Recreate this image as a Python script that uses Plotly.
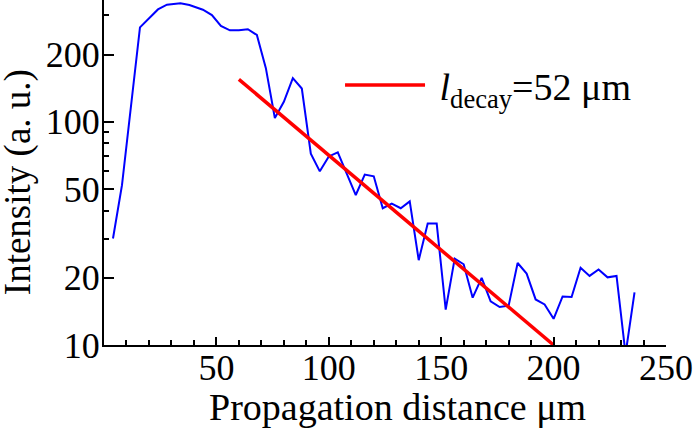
import plotly.graph_objects as go

# propagation distance (um) and measured intensity (a.u.)
distance = [4, 8, 16, 24, 28, 34, 38, 44, 48, 52, 56, 60, 64, 68, 72, 76, 80, 84,
            88, 92, 96, 100, 104, 108, 112, 116, 120, 124, 128, 132, 136, 140,
            144, 148, 152, 156, 160, 164, 168, 172, 176, 180, 184, 188, 192, 196,
            200, 204, 208, 212, 216, 220, 224, 228, 232, 236]
intensity = [30, 52, 265, 319, 335, 340, 334, 318, 301, 269, 257, 257, 260, 245,
             174, 104, 123, 157, 141, 72, 60, 70, 73, 59, 47, 58, 57, 41, 43, 41,
             44, 24, 35, 35, 14.4, 24.4, 23, 16.3, 20, 15.7, 14.8, 15, 23.3, 20.9,
             16, 15.2, 13.1, 16.5, 16.4, 22.2, 20.4, 21.8, 20.1, 20.4, 9.1, 17.2]

# exponential fit, l_decay = 52 um
fit_x = [60, 200]
fit_y = [155, 10]

x_ticks = [50, 100, 150, 200, 250]
y_ticks = [10, 20, 50, 100, 200]
y_minor = [30, 40, 60, 70, 80, 90, 300]

FONT = "Liberation Serif"

fig = go.Figure()

fig.add_trace(go.Scatter(
    x=distance, y=intensity, mode='lines',
    line=dict(color='#0000ff', width=2),
    showlegend=False
))

fig.add_trace(go.Scatter(
    x=fit_x, y=fit_y, mode='lines',
    line=dict(color='#ff0000', width=3.5),
    name=' <i>l</i><sub>decay</sub>=52 μm'
))

fig.update_layout(
    width=693, height=430,
    margin=dict(l=104, r=27, t=0, b=85),
    plot_bgcolor='white', paper_bgcolor='white',
    font=dict(family=FONT, size=36, color='black'),
    legend=dict(x=0.42, y=0.753, xanchor='left', yanchor='middle',
                bgcolor='rgba(0,0,0,0)', itemwidth=80,
                font=dict(family=FONT, size=38)),
    xaxis=dict(
        range=[0, 250], automargin=False,
        tickmode='array', tickvals=x_ticks,
        ticks='inside', ticklen=8, tickwidth=2, tickcolor='black',
        ticklabelstandoff=-10,
        minor=dict(dtick=10, tick0=0, ticks='inside', ticklen=5, tickwidth=1.5,
                   tickcolor='black'),
        showline=True, linecolor='black', linewidth=2,
        showgrid=False, zeroline=False,
    ),
    yaxis=dict(
        type='log', range=[1, 2.546], automargin=False,
        tickmode='array', tickvals=y_ticks,
        ticks='inside', ticklen=10, tickwidth=2, tickcolor='black',
        ticklabelstandoff=-5,
        minor=dict(tickmode='array', tickvals=y_minor, ticks='inside', ticklen=5,
                   tickwidth=1.5, tickcolor='black'),
        showline=True, linecolor='black', linewidth=2,
        showgrid=False, zeroline=False,
    ),
)

# axis titles as annotations, the originals sit a bit off-centre
fig.add_annotation(text='Propagation distance μm', xref='paper', yref='paper',
                   x=0.522, y=-0.113, xanchor='center', yanchor='top',
                   showarrow=False, font=dict(size=38))
fig.add_annotation(text='Intensity (a. u.)', xref='paper', yref='paper',
                   x=-0.153, y=0.472, xanchor='center', yanchor='middle',
                   textangle=-90, showarrow=False, font=dict(size=37))

# drop the browser's default page margin so the figure sits at the top-left
fig.write_html("out.html", config={'displayModeBar': False},
               post_script="document.body.style.margin='0';")
